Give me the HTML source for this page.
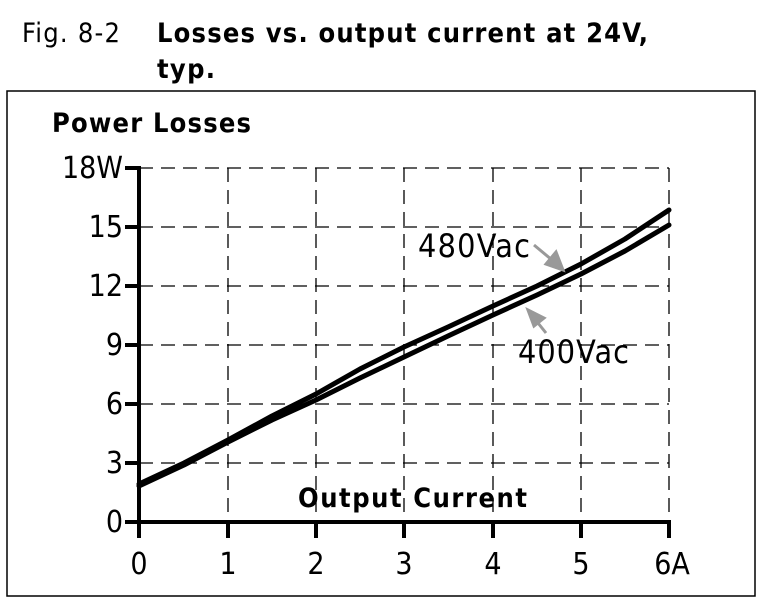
<!DOCTYPE html>
<html><head><style>body{margin:0;background:#fff}svg{display:block}</style></head><body>
<svg width="760" height="601" xmlns="http://www.w3.org/2000/svg" font-family="'DejaVu Sans Condensed','Liberation Sans',sans-serif">
<rect width="760" height="601" fill="#fff"/>
<text x="22" y="42" font-size="27" textLength="98">Fig. 8-2</text>
<text x="157" y="42" font-size="27" font-weight="bold" textLength="491">Losses vs. output current at 24V,</text>
<text x="157" y="78" font-size="27" font-weight="bold" textLength="58">typ.</text>
<rect x="7" y="91" width="748" height="505" fill="none" stroke="#000" stroke-width="1.5"/>
<text x="52" y="132" font-size="27" font-weight="bold" textLength="199">Power Losses</text>
<g stroke="#000" stroke-width="1.3" stroke-dasharray="14,8" fill="none">
<path d="M139 168H669M139 227H669M139 286H669M139 345H669M139 404H669M139 463H669"/>
<path d="M228 168V522M316 168V522M404 168V522M493 168V522M581 168V522M669 168V522"/>
</g>
<g stroke="#000" stroke-width="4" fill="none">
<path d="M139 166V524M125 522H671"/>
<path d="M125 168H139M125 227H139M125 286H139M125 345H139M125 404H139M125 463H139"/>
<path d="M139 522V538M228 522V538M316 522V538M404 522V538M493 522V538M581 522V538M669 522V538"/>
</g>
<g font-size="30" text-anchor="end">
<text x="123" y="178">18W</text><text x="123" y="237">15</text><text x="123" y="296">12</text>
<text x="123" y="355">9</text><text x="123" y="414">6</text><text x="123" y="473">3</text><text x="123" y="532">0</text>
</g>
<g font-size="30" text-anchor="middle">
<text x="139" y="574">0</text><text x="228" y="574">1</text><text x="316" y="574">2</text><text x="404" y="574">3</text>
<text x="493" y="574">4</text><text x="581" y="574">5</text><text x="672" y="574">6A</text>
</g>
<text x="298" y="507" font-size="27" font-weight="bold" textLength="229">Output Current</text>
<g stroke="#000" stroke-width="5" fill="none" stroke-linecap="round" stroke-linejoin="round">
<polyline points="139,484 184,463 228,440 272,416 316,394 360,369 404,347 448,327 493,306 537,286 581,264 625,239 669,210"/>
<polyline points="139,486 184,465 228,442 272,420 316,400 360,378 404,357 448,336 493,315 537,295 581,274 625,251 669,225"/>
</g>
<text x="418" y="257" font-size="32" textLength="112">480Vac</text>
<text x="518" y="363" font-size="32" textLength="111">400Vac</text>
<g stroke="#999" stroke-width="3" fill="#999">
<path d="M534 245L552 260"/><path d="M563 270L546 264L556 252Z"/>
<path d="M546 333L534 318"/><path d="M528 310L544 318L534 326Z"/>
</g>
</svg>
</body></html>
